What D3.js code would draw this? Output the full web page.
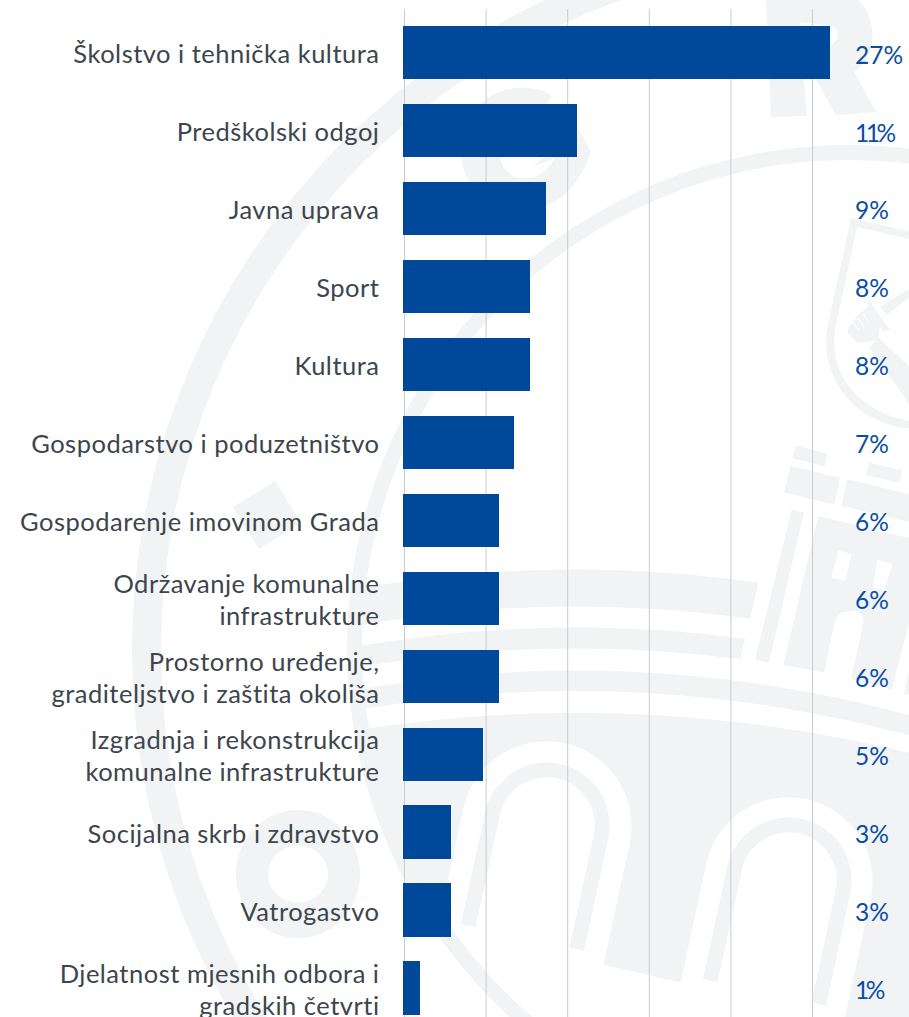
<!DOCTYPE html>
<html>
<head>
<meta charset="utf-8">
<script src="https://cdn.jsdelivr.net/npm/d3@7"></script>
<style>
html,body{margin:0;padding:0;background:#fff;overflow:hidden}
svg{display:block}
text{font-family:"Lato",sans-serif}
</style>
</head>
<body>
<svg id="chart" width="909" height="1017"></svg>
<script>
const categories = [
  ["Školstvo i tehnička kultura"],
  ["Predškolski odgoj"],
  ["Javna uprava"],
  ["Sport"],
  ["Kultura"],
  ["Gospodarstvo i poduzetništvo"],
  ["Gospodarenje imovinom Grada"],
  ["Održavanje komunalne", "infrastrukture"],
  ["Prostorno uređenje,", "graditeljstvo i zaštita okoliša"],
  ["Izgradnja i rekonstrukcija", "komunalne infrastrukture"],
  ["Socijalna skrb i zdravstvo"],
  ["Vatrogastvo"],
  ["Djelatnost mjesnih odbora i", "gradskih četvrti"]
];
const values = [27, 11, 9, 8, 8, 7, 6.03, 6.03, 6.03, 5.03, 3, 3, 1.04];
const gridTicks = [0, 1, 2, 3, 4, 5];

const GRAY = "#f2f3f5", BLUE = "#00499a", INK = "#3d454c", VALUE = "#0a4ea3", GRID = "#c9cbcf";
const FONT = 25.5, SPACING = 0.5, VFONT = 24.5;

const svg = d3.select("#chart");
const defs = svg.append("defs");
defs.append("clipPath").attr("id", "innerRing").append("circle").attr("cx", 849).attr("cy", 647).attr("r", 487);

/* ---------- watermark emblem ---------- */
const wm = svg.append("g");
const RING = d3.arc();
function ring(cx, cy, r0, r1) {
  wm.append("path").attr("transform", `translate(${cx},${cy})`)
    .attr("fill", GRAY)
    .attr("d", RING({innerRadius: r0, outerRadius: r1, startAngle: 0, endAngle: 2 * Math.PI}));
}
function poly(pts, fill, parent) {
  (parent || wm).append("path").attr("fill", fill || GRAY).attr("d", "M" + pts.map(p => p.join(",")).join("L") + "Z");
}
function raw(d, fill, parent) {
  (parent || wm).append("path").attr("fill", fill || GRAY).attr("fill-rule", "evenodd").attr("d", d);
}
ring(850, 650, 689, 718);
const para = (apexY, R) => x => apexY + (x - 576) * (x - 576) / (2 * R);
function band(topApex, botApex, xLeft, rightTop, rightBot, R, parent) {
  const t = para(topApex, R), b = para(botApex, R), pts = [];
  for (let x = xLeft; x <= rightTop[0]; x += 8) pts.push([x, t(x)]);
  pts.push(rightTop, rightBot);
  for (let x = rightBot[0]; x >= xLeft; x -= 8) pts.push([x, b(x)]);
  poly(pts, GRAY, parent);
}
const inner = wm.append("g").attr("clip-path", "url(#innerRing)");
band(569.6, 606.6, 320, [758.3, 582.2], [750.7, 616.9], 1250, inner);
band(627.5, 648.5, 320, [745.3, 637.8], [740.7, 658.8], 1250, inner);
band(670.6, 691, 320, [930, 720.6], [930, 742.6], 1250, inner);
// big mass under the bands
(function () {
  const t = para(713, 1400), pts = [];
  for (let x = 320; x <= 930; x += 8) pts.push([x, t(x)]);
  pts.push([930, 1040], [300, 895]);
  poly(pts, GRAY, inner);
})();
// arches
const ux = 0.2116, uy = -0.977, vx = 0.977, vy = 0.2116;
function arch(cx, cy, r, leg) {
  const a = [cx - r * vx, cy - r * vy], b = [cx + r * vx, cy + r * vy];
  const a2 = [a[0] - ux * leg, a[1] - uy * leg], b2 = [b[0] - ux * leg, b[1] - uy * leg];
  return `M${a2}L${a}A${r},${r} 0 0 1 ${b}L${b2}Z`;
}
function thinArch(cx, cy, r0, r1, leg) {
  return arch(cx, cy, r1, leg) + arch(cx, cy, r0, leg);
}
raw(arch(547, 824, 85, 180), "#fff", inner);
raw(arch(789, 879, 84, 180), "#fff", inner);
raw(thinArch(547, 824, 48, 63, 116), GRAY, inner);
raw(thinArch(789, 879, 48, 63, 116), GRAY, inner);
// thin inner ring drawn over
ring(849, 647, 487, 502);
// circle
raw("M236,874a62,64 0 1,0 124,0a62,64 0 1,0 -124,0Z M268,874a30,28.5 0 1,0 60,0a30,28.5 0 1,0 -60,0Z");
// diamond
poly([[275, 481], [233, 507], [259, 549], [301, 523]]);
// letter G
raw("M551.7,95 C530,83 495,85 477,108 C455,132 456,175 480,195 C505,218 545,215 567,192 C578,181 586,168 590.7,151.7 L578,128 L533,166.7 L555,158 C548,172 535,180 520,178 C500,175 495,150 503,135 C512,118 530,112 541,117 Z");
// letter R
raw("M766,-2 L771,117 L807,116 L804,80 L815,78 L836,115 L876,112 L854,72 C868,62 875,45 872,28 C869,10 862,2 855,-2 Z M800,22 L832,26 C840,30 840,40 830,46 L802,52 Z");
// shield
raw("M915,233 L851,218 L828,325 C818,370 848,425 915,429 L915,422 C860,414 826,375 836,325 L857,227 L915,240 Z");
// sword & fist
poly([[880, 306.7], [915, 285], [915, 293], [886.7, 315]]);
poly([[868.3, 299.3], [890, 330], [883, 331.7], [868, 307]]);
raw("M848,328 L860,313 L868,307 L880,327 L878,340 L858,343 L848,333 Z");
[[853, 322, 859, 330], [858, 318, 864, 327], [863, 314, 869, 323]].forEach(f =>
  wm.append("line").attr("x1", f[0]).attr("y1", f[1]).attr("x2", f[2]).attr("y2", f[3]).attr("stroke", "#fff").attr("stroke-width", 1.2));
poly([[879, 338], [869, 347], [915, 412], [915, 372]]);
// building
poly([[795.7, 445.5], [827.3, 453.5], [824.7, 466.5], [792.3, 458]]);
poly([[790.7, 465.7], [840, 477.9], [834, 504.5], [784, 492.4]]);
poly([[869, 462.6], [902.3, 470.3], [899, 482.8], [866.3, 475.2]]);
poly([[847.3, 479], [915, 495.8], [915, 523.5], [841.3, 505.7]]);
poly([[791.7, 509.5], [804, 512.5], [769, 662.6], [755, 660]]);
raw("M818.3,516 L915,539.5 L915,600 L891.7,689.6 L850.7,679 L863,625.6 C866,612 855,609 848,612.3 C840,610 836,617 834,625.6 L824,672.5 L783.3,664.9 Z");
poly([[838.3, 550.6], [851.7, 554], [845, 581], [831.3, 577.3]], "#fff");
poly([[877.3, 560], [892.3, 564], [884, 591], [872.3, 587.6]], "#fff");
poly([[909, 671.3], [915, 672], [915, 696], [904, 694]]);

/* ---------- chart ---------- */
const gridX = d3.scaleLinear().domain([0, 5]).range([404.5, 812.5]);
const x = d3.scaleLinear().domain([0, 27]).range([403.4, 830]);
const y = d3.scaleBand().domain(d3.range(categories.length)).range([26, 1014.5]).paddingInner(0.3187).paddingOuter(0);

svg.append("g").selectAll("line").data(gridTicks).join("line")
  .attr("x1", d => gridX(d)).attr("x2", d => gridX(d))
  .attr("y1", 9).attr("y2", 1017)
  .attr("stroke", GRID).attr("stroke-width", 1);

svg.append("g").attr("shape-rendering", "crispEdges").selectAll("rect").data(values).join("rect")
  .attr("x", x(0)).attr("y", (d, i) => y(i))
  .attr("width", d => x(d) - x(0)).attr("height", y.bandwidth())
  .attr("fill", BLUE);

const labels = svg.append("g").attr("text-anchor", "end").attr("fill", INK)
  .style("font-size", FONT + "px").style("letter-spacing", SPACING + "px");
categories.forEach((lines, i) => {
  const c = y(i) + y.bandwidth() / 2;
  const t = labels.append("text");
  lines.forEach((ln, k) => {
    const dy = lines.length === 1 ? 10.8 : (k === 0 ? -4.8 : 27);
    t.append("tspan").attr("x", 379.5).attr("y", c + dy).text(ln);
  });
});

svg.append("g").attr("fill", VALUE)
  .style("font-size", VFONT + "px").selectAll("text").data(values).join("text")
  .attr("x", 855).attr("y", (d, i) => y(i) + y.bandwidth() / 2 + 11)
  .each(function (d) {
    const sel = d3.select(this);
    (Math.round(d) + "%").split("").forEach(ch => {
      sel.append("tspan").style("letter-spacing", ch === "1" ? "-3.5px" : "0px").text(ch);
    });
  });
</script>
</body>
</html>
